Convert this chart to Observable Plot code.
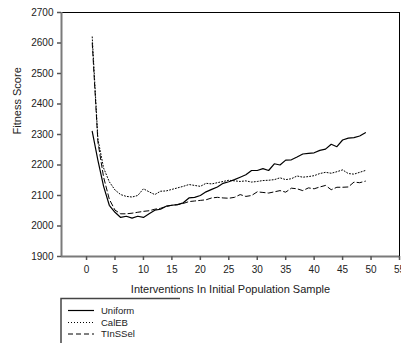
<!DOCTYPE html>
<html><head><meta charset="utf-8">
<script src="https://cdn.jsdelivr.net/npm/d3@7"></script>
<script src="https://cdn.jsdelivr.net/npm/@observablehq/plot@0.6"></script>
<style>
body{margin:0;background:#fff;}
#chart{position:relative;width:401px;height:343px;overflow:hidden;}
</style>
</head><body><div id="chart"></div>
<script>
const interventions = [1,2,3,4,5,6,7,8,9,10,11,12,13,14,15,16,17,18,19,20,21,22,23,24,25,26,27,28,29,30,31,32,33,34,35,36,37,38,39,40,41,42,43,44,45,46,47,48,49];
const uniform = [2310,2215,2130,2068,2045,2028,2032,2026,2032,2028,2040,2052,2055,2065,2068,2070,2076,2092,2094,2100,2112,2120,2128,2140,2145,2152,2160,2168,2182,2182,2188,2182,2204,2200,2216,2217,2226,2236,2238,2240,2248,2252,2268,2260,2282,2288,2290,2295,2306];
const calEB = [2620,2285,2190,2145,2118,2103,2097,2095,2100,2122,2112,2103,2114,2115,2120,2125,2130,2136,2133,2130,2140,2138,2142,2146,2150,2148,2146,2148,2144,2146,2149,2150,2152,2158,2152,2155,2164,2160,2162,2165,2172,2176,2173,2178,2184,2172,2170,2176,2182];
const tInSSel = [2600,2275,2160,2088,2052,2040,2040,2042,2045,2048,2050,2055,2058,2064,2068,2070,2074,2080,2082,2084,2086,2092,2094,2092,2091,2094,2103,2097,2100,2112,2110,2108,2112,2116,2111,2124,2122,2116,2125,2122,2128,2133,2119,2127,2127,2128,2144,2142,2147];
const seriesNames = ["Uniform","CalEB","TInSSel"];
const seriesValues = [uniform, calEB, tInSSel];
const seriesDash = [null, "1,2", "5,3"];
const xTicks = [0,5,10,15,20,25,30,35,40,45,50,55];
const yTicks = [1900,2000,2100,2200,2300,2400,2500,2600,2700];
const xLabel = "Interventions In Initial Population Sample";
const yLabel = "Fitness Score";

const font = "'Liberation Sans', Arial, sans-serif";
const marks = [];
marks.push(Plot.ruleY([2700], {stroke:"#000", strokeWidth:1}));
marks.push(Plot.ruleX([55], {stroke:"#000", strokeWidth:1}));
seriesNames.forEach((name, k) => {
  const rows = interventions.map((x, i) => ({x, y: seriesValues[k][i]}));
  marks.push(Plot.line(rows, {x:"x", y:"y", stroke:"#000", strokeWidth: k===0 ? 1.2 : 1, strokeDasharray: seriesDash[k] || undefined}));
});
marks.push(Plot.ruleX([-4.4], {stroke:"#7a7a7a", strokeWidth:2}));
marks.push(Plot.ruleY([1900], {stroke:"#7a7a7a", strokeWidth:2}));
marks.push(Plot.axisX({ticks:xTicks, tickFormat:d3.format("d"), tickSize:4, tickPadding:5, label:null, fontSize:10, stroke:"#555", strokeWidth:1.5, color:"#222"}));
marks.push(Plot.axisY({ticks:yTicks, tickFormat:d3.format("d"), tickSize:4, tickPadding:4, label:null, fontSize:10, stroke:"#555", strokeWidth:1.5, color:"#222"}));
marks.push(Plot.text([yLabel], {frameAnchor:"left", dx:-44, rotate:-90, fontSize:11, fill:"#222"}));
marks.push(Plot.text([xLabel], {frameAnchor:"bottom", dy:36, fontSize:11, fill:"#222"}));

const svg = Plot.plot({
  width:401, height:343,
  marginTop:12, marginBottom:87, marginLeft:61, marginRight:2,
  style:{fontFamily:font, background:"#fff", overflow:"hidden"},
  x:{domain:[-4.4,55]},
  y:{domain:[1900,2700]},
  marks
});

// legend (below the plot frame, drawn into the same svg)
const g = d3.select(svg).append("g").attr("font-family", font).attr("text-anchor","start");
g.append("path").attr("d","M61,343 V298.5 H180").attr("fill","none").attr("stroke","#444").attr("stroke-width",1.5);
const rowY = [310.5, 322.5, 334];
seriesNames.forEach((name, k) => {
  g.append("line").attr("x1",68).attr("x2",94).attr("y1",rowY[k]).attr("y2",rowY[k])
    .attr("stroke","#000").attr("stroke-width", k===0?1.2:1)
    .attr("stroke-dasharray", seriesDash[k]);
  g.append("text").attr("x",101).attr("y",rowY[k]).attr("dy","0.35em")
    .attr("text-anchor","start")
    .attr("font-size",9.5).attr("fill","#222").text(name);
});
document.getElementById("chart").appendChild(svg);
</script></body></html>
